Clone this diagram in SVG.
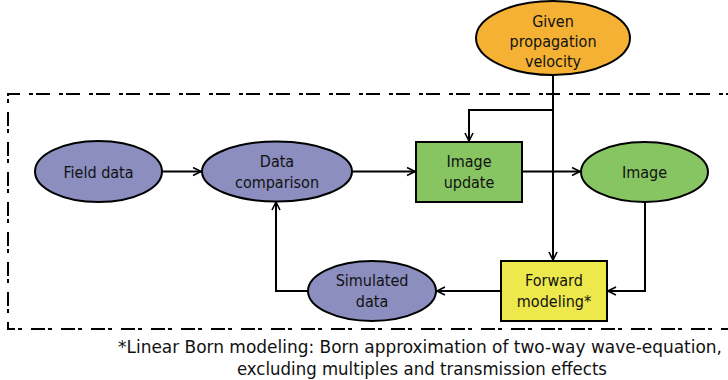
<svg xmlns="http://www.w3.org/2000/svg" width="728" height="380" viewBox="0 0 728 380">
<defs>
<marker id="arr" viewBox="0 0 10 10" refX="9" refY="5" markerWidth="10" markerHeight="10" markerUnits="userSpaceOnUse" orient="auto">
<path d="M1,1 L9,5 L1,9" fill="none" stroke="#000" stroke-width="1.6"/>
</marker>
<style>
.lbl{font-family:"DejaVu Sans Condensed","DejaVu Sans","Liberation Sans",sans-serif;font-stretch:condensed;font-size:16px;fill:#111;text-anchor:middle}
.node{stroke:#000;stroke-width:2}
.purple{fill:#8B8EBE}
.green{fill:#87C462}
.orange{fill:#F4B133}
.yellow{fill:#EDE84C}
.edge{fill:none;stroke:#000;stroke-width:2}
.note{font-family:"DejaVu Sans Condensed","DejaVu Sans","Liberation Sans",sans-serif;font-stretch:condensed;font-size:18px;fill:#111;text-anchor:middle}
</style>
</defs>
<rect width="728" height="380" fill="#fff"/>
<path d="M740,94 L8,94 L8,329 L740,329" fill="none" stroke="#000" stroke-width="2" stroke-dasharray="14 3 4 9"/>
<g id="connectors">
<line class="edge" x1="162" y1="171.5" x2="201" y2="171.5" marker-end="url(#arr)"/>
<line class="edge" x1="352" y1="171.5" x2="415" y2="171.5" marker-end="url(#arr)"/>
<line class="edge" x1="522" y1="171.5" x2="580" y2="171.5" marker-end="url(#arr)"/>
<path class="edge" d="M553,75 L553,260" marker-end="url(#arr)"/>
<path class="edge" d="M553,110 L469,110 L469,141" marker-end="url(#arr)"/>
<path class="edge" d="M645,202 L645,291 L608,291" marker-end="url(#arr)"/>
<line class="edge" x1="501" y1="291" x2="437" y2="291" marker-end="url(#arr)"/>
<path class="edge" d="M308,291 L276,291 L276,202" marker-end="url(#arr)"/>
</g>
<g id="velocity">
<ellipse class="node orange" cx="553" cy="38" rx="77" ry="37"/>
<text class="lbl" x="553" y="27">Given</text>
<text class="lbl" x="553" y="47">propagation</text>
<text class="lbl" x="553" y="67">velocity</text>
</g>
<g id="field-data">
<ellipse class="node purple" cx="98.5" cy="171.5" rx="63.5" ry="30.5"/>
<text class="lbl" x="98.5" y="178">Field data</text>
</g>
<g id="data-comparison">
<ellipse class="node purple" cx="277" cy="171.5" rx="75" ry="30"/>
<text class="lbl" x="277" y="167">Data</text>
<text class="lbl" x="277" y="188">comparison</text>
</g>
<g id="image-update">
<rect class="node green" x="416" y="142" width="106" height="60"/>
<text class="lbl" x="469" y="167">Image</text>
<text class="lbl" x="469" y="188">update</text>
</g>
<g id="image">
<ellipse class="node green" cx="644.5" cy="172" rx="63.5" ry="30"/>
<text class="lbl" x="644.5" y="178">Image</text>
</g>
<g id="forward-modeling">
<rect class="node yellow" x="501" y="261" width="106" height="60"/>
<text class="lbl" x="554" y="286">Forward</text>
<text class="lbl" x="554" y="307">modeling*</text>
</g>
<g id="simulated-data">
<ellipse class="node purple" cx="372" cy="291" rx="64" ry="30"/>
<text class="lbl" x="372" y="286">Simulated</text>
<text class="lbl" x="372" y="307">data</text>
</g>
<text class="note" x="420" y="353" textLength="604" lengthAdjust="spacingAndGlyphs">*Linear Born modeling: Born approximation of two-way wave-equation,</text>
<text class="note" x="422" y="375" textLength="370" lengthAdjust="spacingAndGlyphs">excluding multiples and transmission effects</text>
</svg>
